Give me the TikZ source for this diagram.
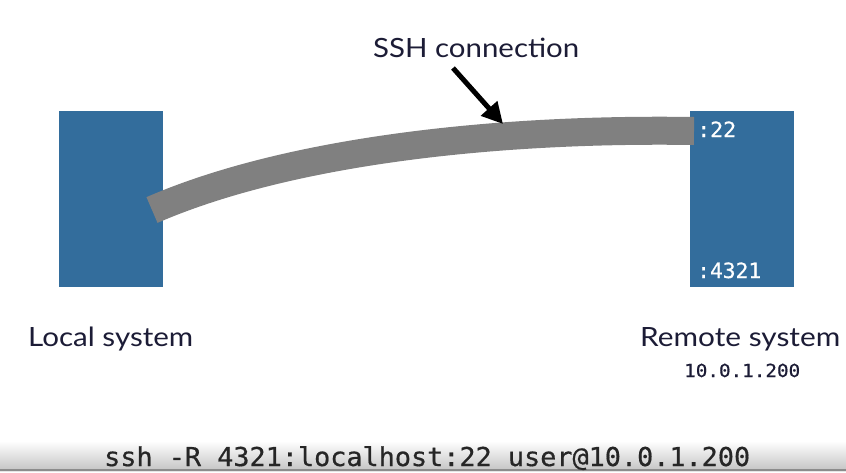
\documentclass[tikz,border=0pt]{standalone}
\usepackage{graphicx}
\usepackage{fontspec}
\setmainfont{Lato}
\newfontfamily\monof[FakeBold=0.6]{DejaVu Sans Mono}
\usetikzlibrary{arrows.meta}
\definecolor{boxblue}{HTML}{336D9C}
\definecolor{pipegray}{HTML}{808080}
\definecolor{inkblue}{HTML}{1C1C36}
\newcommand\fitw[2]{\resizebox{#1}{\height}{#2}}
\tikzset{
  sysbox/.style={fill=boxblue, draw=none, minimum width=104pt, minimum height=176pt, inner sep=0pt, anchor=north west},
  sanslabel/.style={inner sep=0pt, anchor=base west, text=inkblue, font=\fontsize{26.5}{30}\selectfont},
  portlabel/.style={inner sep=0pt, anchor=base west, text=white, font=\monof\fontsize{21}{24}\selectfont},
  iplabel/.style={inner sep=0pt, anchor=base west, text=inkblue, font=\monof\fontsize{18}{21}\selectfont},
  cmdlabel/.style={inner sep=0pt, anchor=base west, text=black!85, font=\monof\fontsize{26}{29}\selectfont},
  pipe/.style={draw=pipegray, line width=28pt, line cap=butt},
  pointer/.style={draw=black, line width=5pt, -{Triangle[length=21pt,width=21pt]}}
}
\begin{document}
\begin{tikzpicture}[x=1pt,y=-1pt]
\useasboundingbox (0,0) rectangle (846,472);
\fill[white] (0,0) rectangle (846,472);
% bottom bar
\shade[top color=white, bottom color=black!22] (0,441) rectangle (846,469);
\fill[black!45] (0,469) rectangle (846,471);
\fill[black!10] (0,471) rectangle (846,472);
% boxes
\node[sysbox] (local) at (59,111) {};
\node[sysbox] (remote) at (690,111) {};
% pipe
\coordinate (pipeL) at (152,210);
\coordinate (pipeR) at (694,131);
\draw[pipe] (pipeL) .. controls (290,150) and (500,128) .. (pipeR);
% labels
\node[sanslabel] (sshlab) at (373,57) {\fitw{206pt}{SSH connection}};
\coordinate (tip) at (503,124);
\coordinate (tail) at (453,68);
\draw[pointer] (tail) -- (tip);
\node[sanslabel] (loclab) at (28,346) {\fitw{165pt}{Local system}};
\node[sanslabel] (remlab) at (640,346) {\fitw{200pt}{Remote system}};
\node[iplabel] (iplab) at (684,377) {\fitw{116pt}{10.0.1.200}};
\node[portlabel] (p22) at (697,137) {\fitw{39pt}{:22}};
\node[portlabel] (p4321) at (697,278) {\fitw{64pt}{:4321}};
\node[cmdlabel] (cmd) at (104,466) {\fitw{646pt}{ssh -R 4321:localhost:22 user@10.0.1.200}};
\end{tikzpicture}
\end{document}
